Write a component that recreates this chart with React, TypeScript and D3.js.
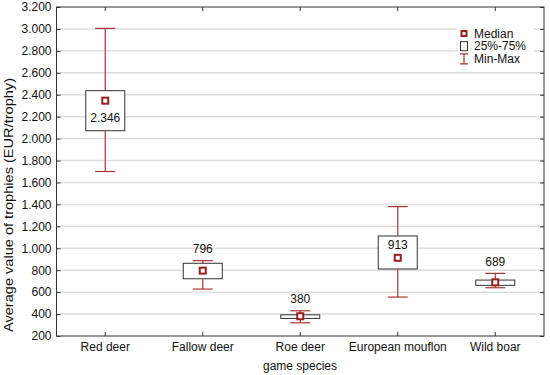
import React, { useEffect, useRef } from 'react';
import * as d3 from 'd3';

const species = ['Red deer', 'Fallow deer', 'Roe deer', 'European mouflon', 'Wild boar'];
const minValues = [1700, 628, 320, 555, 640];
const q1Values = [2072, 722, 360, 811, 662];
const medianValues = [2346, 796, 380, 913, 689];
const q3Values = [2437, 863, 393, 1112, 710];
const maxValues = [3005, 887, 430, 1380, 771];
// where the median label sits: inside the box below/above the marker, or above the whisker
const labelPlacement = ['inBelow', 'above', 'above', 'inAbove', 'above'];
const yTicks = [200, 400, 600, 800, 1000, 1200, 1400, 1600, 1800, 2000, 2200, 2400, 2600, 2800, 3000, 3200];

const legendItems = ['Median', '25%-75%', 'Min-Max'];

const App = () => {
  const ref = useRef<SVGSVGElement>(null);

  useEffect(() => {
    const svg = d3.select(ref.current);
    svg.selectAll('*').remove();

    const margin = { top: 7, right: 6, bottom: 39, left: 56.5 };
    const W = 550, H = 375;
    const width = W - margin.left - margin.right;
    const height = H - margin.top - margin.bottom;
    const font = '"Liberation Sans", Arial, sans-serif';
    const whiskerColor = '#a83434';
    const medianColor = '#9a1e1e';

    const locale = d3.formatLocale({ decimal: ',', thousands: '.', grouping: [3], currency: ['', '€'] });
    const fmt = locale.format(',d');

    const g = svg.append('g').attr('transform', `translate(${margin.left},${margin.top})`);

    const x = d3.scaleBand().domain(species).range([0, width]).padding(0);
    const y = d3.scaleLinear().domain([200, 3200]).range([height, 0]);

    // gridlines
    g.append('g')
      .selectAll('line')
      .data(yTicks.slice(1, -1))
      .enter().append('line')
      .attr('x1', 0).attr('x2', width)
      .attr('y1', d => y(d)).attr('y2', d => y(d))
      .attr('stroke', '#dedede')
      .attr('stroke-width', 1.5);

    const styleAxis = (sel: any, showText: boolean) => {
      sel.select('.domain').remove();
      sel.selectAll('.tick line').attr('stroke', '#333');
      sel.selectAll('.tick text')
        .attr('fill', '#111')
        .style('font-family', font)
        .style('font-size', '12px')
        .style('display', showText ? null : 'none');
    };

    g.append('g')
      .call(d3.axisLeft(y).tickValues(yTicks).tickSize(-4).tickPadding(5).tickFormat(d => fmt(d as number)))
      .call(sel => styleAxis(sel, true));

    g.append('g')
      .attr('transform', `translate(${width},0)`)
      .call(d3.axisRight(y).tickValues(yTicks).tickSize(-4))
      .call(sel => styleAxis(sel, false));

    g.append('g')
      .attr('transform', `translate(0,${height})`)
      .call(d3.axisBottom(x).tickSize(-4).tickPadding(6))
      .call(sel => styleAxis(sel, true));

    g.append('g')
      .call(d3.axisTop(x).tickSize(-4))
      .call(sel => styleAxis(sel, false));

    // frame
    g.append('rect')
      .attr('width', width).attr('height', height)
      .attr('fill', 'none').attr('stroke', '#333').attr('stroke-width', 1);

    const boxW = 39;
    const capW = 20;
    const mk = 8;

    species.forEach((s, i) => {
      const cx = (x(s) as number) + x.bandwidth() / 2;
      const bg = g.append('g');

      // box
      bg.append('rect')
        .attr('x', cx - boxW / 2)
        .attr('y', y(q3Values[i]))
        .attr('width', boxW)
        .attr('height', y(q1Values[i]) - y(q3Values[i]))
        .attr('fill', '#fff')
        .attr('stroke', '#333')
        .attr('stroke-width', 1);

      // whiskers
      bg.append('line')
        .attr('x1', cx).attr('x2', cx)
        .attr('y1', y(maxValues[i])).attr('y2', y(q3Values[i]))
        .attr('stroke', whiskerColor).attr('stroke-width', 1.2);
      bg.append('line')
        .attr('x1', cx).attr('x2', cx)
        .attr('y1', y(q1Values[i])).attr('y2', y(minValues[i]))
        .attr('stroke', whiskerColor).attr('stroke-width', 1.2);
      [maxValues[i], minValues[i]].forEach(v => {
        bg.append('line')
          .attr('x1', cx - capW / 2).attr('x2', cx + capW / 2)
          .attr('y1', y(v)).attr('y2', y(v))
          .attr('stroke', whiskerColor).attr('stroke-width', 1.2);
      });

      // median marker
      bg.append('rect')
        .attr('x', cx - mk / 2 + 1)
        .attr('y', y(medianValues[i]) - mk / 2 + 1)
        .attr('width', mk - 2).attr('height', mk - 2)
        .attr('fill', '#fff')
        .attr('stroke', medianColor)
        .attr('stroke-width', 2);

      let ly = y(maxValues[i]) - 12;
      if (labelPlacement[i] === 'inBelow') ly = y(medianValues[i]) + 17;
      if (labelPlacement[i] === 'inAbove') ly = y(medianValues[i]) - 13;

      bg.append('text')
        .attr('x', cx).attr('y', ly)
        .attr('dy', '0.35em')
        .attr('text-anchor', 'middle')
        .style('font-family', font)
        .style('font-size', '12px')
        .attr('fill', '#111')
        .text(fmt(medianValues[i]));
    });

    // legend
    const lg = svg.append('g').attr('transform', 'translate(457,25)');
    lg.append('rect').attr('width', 77).attr('height', 41).attr('fill', '#fff');
    legendItems.forEach((item, i) => {
      const ry = 8.5 + i * 12.7;
      const row = lg.append('g').attr('transform', `translate(7,${ry})`);
      if (i === 0) {
        row.append('rect').attr('x', -2.5).attr('y', -2.5).attr('width', 5).attr('height', 5)
          .attr('fill', '#fff').attr('stroke', medianColor).attr('stroke-width', 2);
      } else if (i === 1) {
        row.append('rect').attr('x', -3.5).attr('y', -4.5).attr('width', 7).attr('height', 9)
          .attr('fill', '#fff').attr('stroke', '#333').attr('stroke-width', 1);
      } else {
        row.append('path').attr('d', 'M-4,-5H4M0,-5V5M-4,5H4')
          .attr('fill', 'none').attr('stroke', whiskerColor).attr('stroke-width', 1.2);
      }
      row.append('text')
        .attr('x', 10).attr('y', 0).attr('dy', '0.35em')
        .style('font-family', font).style('font-size', '12px')
        .attr('fill', '#111')
        .text(item);
    });

    // axis titles
    svg.append('text')
      .attr('transform', `translate(9,${205}) rotate(-90)`)
      .attr('text-anchor', 'middle')
      .attr('dy', '0.35em')
      .attr('textLength', 254)
      .attr('lengthAdjust', 'spacingAndGlyphs')
      .style('font-family', font).style('font-size', '12.5px')
      .attr('fill', '#111')
      .text('Average value of trophies (EUR/trophy)');

    svg.append('text')
      .attr('x', 300).attr('y', 366)
      .attr('text-anchor', 'middle')
      .attr('dy', '0.35em')
      .style('font-family', font).style('font-size', '12px')
      .attr('fill', '#111')
      .text('game species');
  }, []);

  return (
    <div style={{ position: 'absolute', left: 0, top: 0 }}>
      <svg ref={ref} width={550} height={375} style={{ display: 'block', background: '#fff' }} />
    </div>
  );
};

export default App;
